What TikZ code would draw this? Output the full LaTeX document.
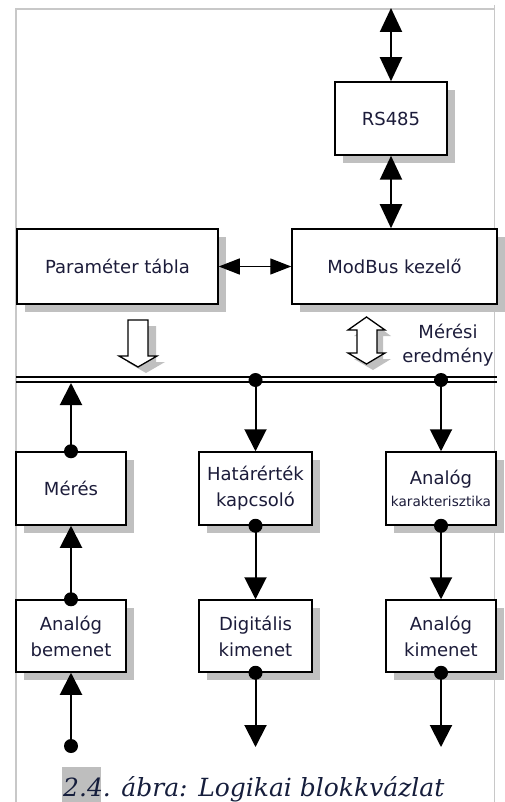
\documentclass[tikz,border=0pt]{standalone}
\usepackage{fontspec}
\usetikzlibrary{arrows.meta,shadows,calc}
\newfontfamily\boxfont{DejaVu Sans}
\newfontfamily\capfont{DejaVu Serif}
\definecolor{txt}{RGB}{28,28,58}
\definecolor{captxt}{RGB}{22,30,60}
\definecolor{frame}{RGB}{200,200,200}
\definecolor{shade}{RGB}{192,192,192}
\definecolor{hl}{RGB}{190,190,190}
\tikzset{
  blk/.style={draw=black, line width=1.5pt, fill=white, text=txt, inner sep=0pt,
    font=\boxfont\fontsize{18}{26}\selectfont, align=center,
    drop shadow={shadow xshift=8pt, shadow yshift=-8pt, fill=shade, opacity=1}},
  conn/.style={line width=2pt, draw=black},
  ahead/.style={-{Triangle[length=22pt,width=22pt]}},
  dblv/.style={{Triangle[length=24pt,width=22pt]}-{Triangle[length=24pt,width=22pt]}},
  dblh/.style={line width=1.3pt, {Triangle[length=21pt,width=16pt]}-{Triangle[length=21pt,width=16pt]}},
  dot/.style={circle, fill=black, inner sep=0pt, minimum size=14pt},
  hollow/.style={draw=black, line width=1.3pt, fill=white},
  hshadow/.style={fill=shade, draw=none},
  frm/.style={draw=frame, line width=1.5pt},
}
\begin{document}
\begin{tikzpicture}[x=1pt,y=-1pt]
\useasboundingbox (0,0) rectangle (505,802);
% frame
\draw[frm] (16,802) -- (16,9) -- (494,9);
\draw[frm] (494.5,5) -- (494.5,802);
% boxes
\node[blk, minimum width=112pt, minimum height=73pt] (rs) at (391,118.5) {RS485};
\node[blk, minimum width=205pt, minimum height=75pt] (mb) at (394.5,266.5) {ModBus kezelő};
\node[blk, minimum width=201pt, minimum height=75pt] (pt) at (117.5,266.5) {Paraméter tábla};
\node[blk, minimum width=110pt, minimum height=73pt] (me) at (71,488.5) {Mérés};
\node[blk, minimum width=113pt, minimum height=73pt] (ha) at (255.5,488.5) {Határérték\\kapcsoló};
\node[blk, minimum width=110pt, minimum height=73pt] (ka) at (441,488.5) {Analóg\\[-4pt]{\fontsize{13.6}{16}\selectfont karakterisztika}};
\node[blk, minimum width=110pt, minimum height=72pt] (ab) at (71,636) {Analóg\\bemenet};
\node[blk, minimum width=113pt, minimum height=72pt] (dk) at (255.5,636) {Digitális\\kimenet};
\node[blk, minimum width=110pt, minimum height=72pt] (ak) at (441,636) {Analóg\\kimenet};
% top connectors
\coordinate (ext) at (391,8);
\draw[conn, dblv] (ext) -- (rs.north);
\draw[conn, dblv] (rs.south) -- (rs.south |- mb.north);
\draw[dblh] (pt.east) -- (mb.west);
% hollow arrows
\fill[hshadow] (136,326) -- (156,326) -- (156,362) -- (165,362) -- (146,373) -- (127,362) -- (136,362) -- cycle;
\draw[hollow] (128,320) -- (148,320) -- (148,356) -- (157,356) -- (138,367) -- (119,356) -- (128,356) -- cycle;
\fill[hshadow] (373,323) -- (391,336) -- (383,336) -- (383,359) -- (391,359) -- (373,370) -- (354,359) -- (363,359) -- (363,336) -- (354,336) -- cycle;
\draw[hollow] (366.5,317) -- (385,330) -- (377,330) -- (377,353) -- (385,353) -- (366.5,364) -- (348,353) -- (357,353) -- (357,330) -- (348,330) -- cycle;
\node[text=txt, font=\boxfont\fontsize{18}{24}\selectfont, align=center] (mer) at (448,345) {Mérési\\eredmény};
% bus
\coordinate (busL) at (16,377);
\coordinate (busR) at (497,377);
\draw[line width=1.5pt] (busL) -- (busR);
\draw[line width=1.5pt] ($(busL)+(0,5)$) -- ($(busR)+(0,5)$);
% bus taps
\node[dot] (d1) at (me.north) {};
\coordinate (t1) at (me.north |- 0,383);
\draw[conn, ahead] (d1.center) -- (t1);
\node[dot] (d2) at (ha.north |- 0,380) {};
\draw[conn, ahead] (d2.center) -- (ha.north);
\node[dot] (d3) at (ka.north |- 0,380) {};
\draw[conn, ahead] (d3.center) -- (ka.north);
% middle connectors
\node[dot] (d4) at (ab.north) {};
\draw[conn, ahead] (d4.center) -- (me.south);
\node[dot] (d5) at (ha.south) {};
\draw[conn, ahead] (d5.center) -- (dk.north);
\node[dot] (d6) at (ka.south) {};
\draw[conn, ahead] (d6.center) -- (ak.north);
% bottom connectors
\node[dot] (d7) at (ab.south |- 0,746) {};
\draw[conn, ahead] (d7.center) -- (ab.south);
\node[dot] (d8) at (dk.south) {};
\coordinate (o2) at (dk.south |- 0,747);
\draw[conn, ahead] (d8.center) -- (o2);
\node[dot] (d9) at (ak.south) {};
\coordinate (o3) at (ak.south |- 0,747);
\draw[conn, ahead] (d9.center) -- (o3);
% caption
\fill[hl] (62,767) rectangle (101,802);
\node[anchor=base west, inner sep=0pt, text=captxt, font=\capfont\itshape\fontsize{25}{28}\selectfont] (cap) at (63,796)
  {2.4. ábra: Logikai blokkvázlat};
\end{tikzpicture}
\end{document}
